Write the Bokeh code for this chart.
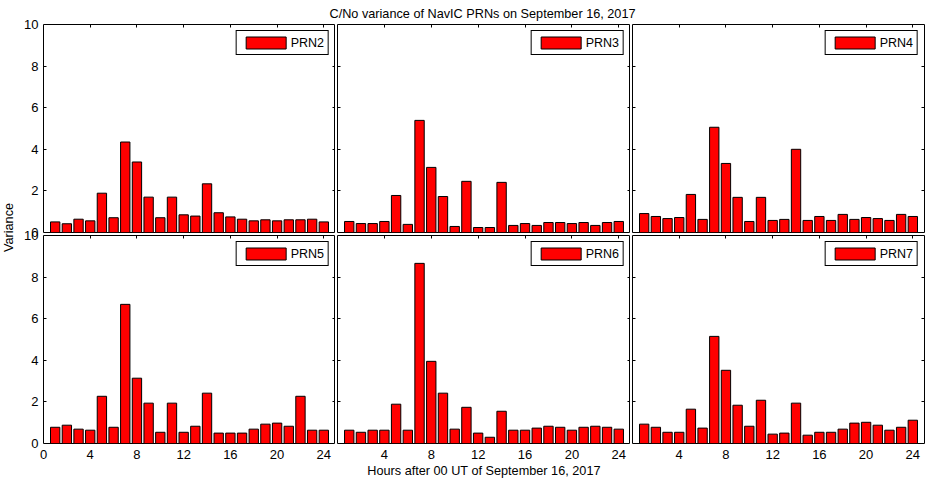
import numpy as np
from bokeh.plotting import figure
from bokeh.models import Range1d, FixedTicker, Label, Grid
from bokeh.layouts import row, column
from bokeh.embed import file_html
from bokeh.resources import INLINE

hours = list(range(1, 25))
prn2 = [0.51, 0.42, 0.64, 0.56, 1.89, 0.71, 4.35, 3.39, 1.70, 0.71, 1.70, 0.85,
        0.79, 2.34, 0.95, 0.75, 0.64, 0.56, 0.61, 0.56, 0.61, 0.61, 0.64, 0.51]
prn3 = [0.53, 0.43, 0.43, 0.53, 1.78, 0.39, 5.39, 3.13, 1.73, 0.29, 2.46, 0.24,
        0.24, 2.41, 0.34, 0.43, 0.34, 0.48, 0.48, 0.43, 0.48, 0.34, 0.48, 0.53]
prn4 = [0.91, 0.77, 0.67, 0.72, 1.83, 0.63, 5.06, 3.32, 1.69, 0.53, 1.69, 0.58,
        0.63, 4.00, 0.58, 0.77, 0.58, 0.87, 0.63, 0.72, 0.67, 0.58, 0.87, 0.77]
prn5 = [0.78, 0.88, 0.69, 0.64, 2.27, 0.78, 6.69, 3.14, 1.94, 0.54, 1.94, 0.54,
        0.83, 2.42, 0.50, 0.50, 0.50, 0.69, 0.93, 0.98, 0.83, 2.27, 0.64, 0.64]
prn6 = [0.64, 0.54, 0.64, 0.64, 1.89, 0.64, 8.66, 3.95, 2.42, 0.69, 1.74, 0.50,
        0.30, 1.55, 0.64, 0.64, 0.74, 0.83, 0.78, 0.64, 0.78, 0.83, 0.78, 0.69]
prn7 = [0.93, 0.78, 0.54, 0.54, 1.65, 0.74, 5.15, 3.52, 1.84, 0.83, 2.08, 0.45,
        0.50, 1.94, 0.40, 0.54, 0.54, 0.69, 0.98, 1.02, 0.88, 0.64, 0.78, 1.12]
labels = ["PRN2", "PRN3", "PRN4", "PRN5", "PRN6", "PRN7"]
series = [prn2, prn3, prn4, prn5, prn6, prn7]
x_ticks_first = [0, 4, 8, 12, 16, 20, 24]
x_ticks_other = [4, 8, 12, 16, 20, 24]
y_ticks = [0, 2, 4, 6, 8, 10]
title_text = "C/No variance of NavIC PRNs on September 16, 2017"
xlabel_text = "Hours after 00 UT of September 16, 2017"
ylabel_text = "Variance"

FONT = "Liberation Sans"
FS_TICK = "13px"
FS_LEG = "12.5px"
FS2 = "12.7px"
FH = 208
XMAX, YMAX = 25, 10
TICK = 3      # tick length in pixels
OVL = 9       # extra border so that neighbouring figures overlap without clipping labels
BOT = 37


def style_axis(ax, ticks, standoff):
    ax.ticker = FixedTicker(ticks=ticks)
    ax.major_tick_in = 0
    ax.major_tick_out = 0
    ax.minor_tick_in = 0
    ax.minor_tick_out = 0
    ax.axis_line_color = None
    ax.major_label_text_font = FONT
    ax.major_label_text_font_size = FS_TICK
    ax.major_label_text_color = "black"
    ax.major_label_standoff = standoff


def add_ticks(p, fw, xt):
    tx = TICK * XMAX / fw
    ty = TICK * YMAX / FH
    specs = [
        (1, y_ticks, (0, tx)),
        (1, y_ticks, (XMAX - tx, XMAX)),
        (0, xt, (YMAX - ty, YMAX)),
        (0, xt, (0, ty)),
    ]
    for dim, ticks, cb in specs:
        g = Grid(dimension=dim, ticker=FixedTicker(ticks=ticks), cross_bounds=cb,
                 grid_line_color="black", grid_line_width=1, grid_line_alpha=1)
        p.add_layout(g, "center")


figs = []
widths = []
for i, (lab, vals) in enumerate(zip(labels, series)):
    col = i % 3
    rw = i // 3
    left = 23 if col == 0 else 2
    right = 0 if col < 2 else 4
    fw = 293 if col == 1 else 292
    top = OVL
    bottom = OVL if rw == 0 else BOT
    p = figure(width=left + fw + right, height=top + FH + bottom,
               x_range=Range1d(0, XMAX), y_range=Range1d(0, YMAX),
               output_backend="svg", toolbar_location=None, title=None,
               x_axis_location="below" if rw == 1 else None,
               y_axis_location="left" if col == 0 else None,
               min_border_left=left, min_border_right=right,
               min_border_top=top, min_border_bottom=bottom,
               background_fill_color="white", border_fill_color="white",
               border_fill_alpha=0,
               outline_line_color="black", outline_line_width=1, outline_line_alpha=1)
    p.grid.visible = False
    xt = x_ticks_first if col == 0 else x_ticks_other
    if rw == 1:
        style_axis(p.below[0], xt, 6)
    if col == 0:
        style_axis(p.left[0], y_ticks, 5)
    add_ticks(p, fw, xt)

    p.vbar(x=hours, top=vals, bottom=0, width=0.8, fill_color="#ff0000",
           line_color="black", line_width=1, legend_label=lab)
    lg = p.legend[0]
    lg.location = "top_right"
    lg.margin = 6
    lg.padding = 4
    lg.spacing = 0
    lg.glyph_width = 50
    lg.glyph_height = 15
    lg.label_height = 15
    lg.label_standoff = 0
    lg.label_text_font = FONT
    lg.label_text_font_size = FS_LEG
    lg.label_text_color = "black"
    lg.border_line_color = "black"
    lg.border_line_width = 1
    lg.border_line_alpha = 1
    lg.background_fill_color = "white"
    lg.background_fill_alpha = 1

    if i == 4:
        ax = p.below[0]
        ax.axis_label = xlabel_text
        ax.axis_label_text_font = FONT
        ax.axis_label_text_font_size = FS2
        ax.axis_label_text_font_style = "normal"
        ax.axis_label_text_color = "black"
        ax.axis_label_standoff = 2
    figs.append(p)
    if rw == 0:
        widths.append(left + fw + right)

HEAD = 24
GRID_W = sum(widths)
ROW_OVERLAP = 2 * OVL - 3          # rows 3 px apart
H = HEAD - OVL + (OVL + FH + OVL) + (OVL + FH + BOT) - ROW_OVERLAP
VW = 20


def text_fig(w, h):
    f = figure(width=w, height=h, output_backend="svg", toolbar_location=None, title=None,
               x_axis_location=None, y_axis_location=None,
               min_border_left=0, min_border_right=0, min_border_top=0, min_border_bottom=0,
               outline_line_color=None, x_range=Range1d(0, 1), y_range=Range1d(0, 1))
    f.grid.visible = False
    return f


head = text_fig(GRID_W, HEAD)
head.add_layout(Label(x=482 - VW, y=HEAD - 13, x_units="screen", y_units="screen",
                      text=title_text, text_align="center", text_baseline="alphabetic",
                      text_font=FONT, text_font_size=FS2, text_color="black"))

vfig = text_fig(VW, H)
vfig.add_layout(Label(x=8, y=H - 227, x_units="screen", y_units="screen", text=ylabel_text,
                      angle=np.pi / 2, text_align="center", text_baseline="middle",
                      text_font=FONT, text_font_size=FS2, text_color="black"))

top_row = row(*figs[:3], margin=(-OVL, 0, 0, 0))
bottom_row = row(*figs[3:], margin=(-ROW_OVERLAP, 0, 0, 0))
layout = row(vfig, column(head, top_row, bottom_row))

open("out.html", "w").write(file_html(layout, INLINE))
